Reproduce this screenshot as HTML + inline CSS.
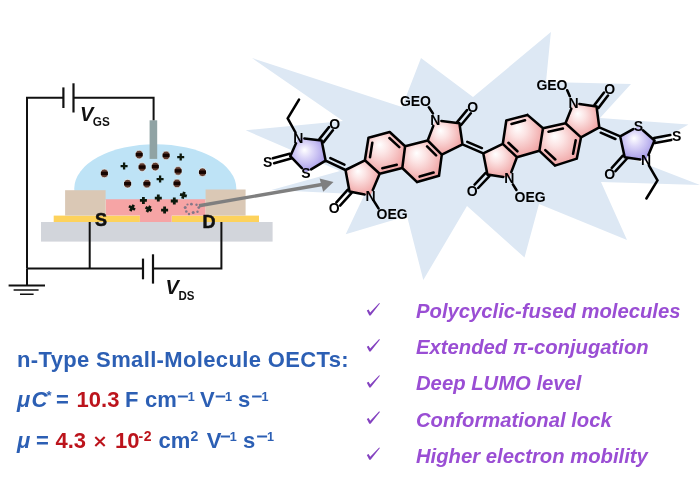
<!DOCTYPE html>
<html><head><meta charset="utf-8"><style>
html,body{margin:0;padding:0;background:#fff;width:700px;height:496px;overflow:hidden}
svg{display:block;will-change:transform}
</style></head><body>
<svg width="700" height="496" viewBox="0 0 700 496"><defs><radialGradient id="gp" cx="0.45" cy="0.42" r="0.66" fx="0.36" fy="0.3"><stop offset="0" stop-color="#ffffff"/><stop offset="0.3" stop-color="#fce4e4"/><stop offset="1" stop-color="#ee9898"/></radialGradient><radialGradient id="gv" cx="0.45" cy="0.42" r="0.62" fx="0.4" fy="0.35"><stop offset="0" stop-color="#ffffff"/><stop offset="0.35" stop-color="#dcd6f8"/><stop offset="1" stop-color="#a094e6"/></radialGradient></defs>
<polygon points="252,58 402,107 421,58 473,97 550.9,32 546,82 631,84 600,118 688.5,124.5 629.5,157.8 700,185 601,182 627,240 539,204 524.5,257.5 467,206 423.3,280 407,216 345.7,234.3 364.5,194.4 271.4,190 340,171 245.7,130.3 343,121" fill="#dde8f4"/>
<rect x="41" y="222" width="231.6" height="19.6" fill="#d2d5db"/>
<rect x="53.7" y="215.6" width="86.2" height="6.4" fill="#fdd25c"/>
<rect x="171.7" y="215.6" width="87.3" height="6.4" fill="#fdd25c"/>
<path d="M74.3,200 V188.3 A81,44.1 0 0 1 236.3,188.3 V200 Z" fill="#bee3f6"/>
<path d="M105.6,199.2 H205.6 V215.6 H171.7 V222 H139.9 V215.6 H105.6 Z" fill="#f6a4a5"/>
<rect x="65.1" y="190.2" width="40.5" height="25.4" fill="#dac8b5"/>
<rect x="205.6" y="189.5" width="40" height="26.1" fill="#dac8b5"/>
<rect x="149.6" y="120.3" width="7.6" height="38.6" fill="#90a3a4"/>
<path d="M27,268.5 V97.8 H63.4 M73.5,97.8 H153.6 V120.3" stroke="#111" stroke-width="2" fill="none"/>
<line x1="63.4" y1="87.4" x2="63.4" y2="108" stroke="#111" stroke-width="2.2"/>
<line x1="73.5" y1="83.3" x2="73.5" y2="112.5" stroke="#111" stroke-width="2.2"/>
<path d="M27,268.5 H143 M153,268.5 H221.4 V222 M89.7,222 V268.5" stroke="#111" stroke-width="2" fill="none"/>
<line x1="143" y1="258.6" x2="143" y2="279.3" stroke="#111" stroke-width="2.2"/>
<line x1="153" y1="254.3" x2="153" y2="283.6" stroke="#111" stroke-width="2.2"/>
<path d="M27,268.5 V285.4 M8.6,285.4 H45" stroke="#111" stroke-width="2" fill="none"/><path d="M13.6,290 H38.6 M20,294.3 H33.6" stroke="#111" stroke-width="1.6"/>
<ellipse cx="139.2" cy="154.6" rx="3.7" ry="4.3" fill="#5e3a2e" stroke="#eef6f8" stroke-width="0.7"/><rect x="135.7" y="152.9" width="7" height="3.4" fill="#160400"/>
<ellipse cx="166.1" cy="155.4" rx="3.7" ry="4.3" fill="#5e3a2e" stroke="#eef6f8" stroke-width="0.7"/><rect x="162.6" y="153.7" width="7" height="3.4" fill="#160400"/>
<ellipse cx="142.1" cy="167.1" rx="3.7" ry="4.3" fill="#5e3a2e" stroke="#eef6f8" stroke-width="0.7"/><rect x="138.6" y="165.4" width="7" height="3.4" fill="#160400"/>
<ellipse cx="155.3" cy="166.6" rx="3.7" ry="4.3" fill="#5e3a2e" stroke="#eef6f8" stroke-width="0.7"/><rect x="151.8" y="164.9" width="7" height="3.4" fill="#160400"/>
<ellipse cx="178.1" cy="170.9" rx="3.7" ry="4.3" fill="#5e3a2e" stroke="#eef6f8" stroke-width="0.7"/><rect x="174.6" y="169.2" width="7" height="3.4" fill="#160400"/>
<ellipse cx="104.4" cy="173.4" rx="3.7" ry="4.3" fill="#5e3a2e" stroke="#eef6f8" stroke-width="0.7"/><rect x="100.9" y="171.7" width="7" height="3.4" fill="#160400"/>
<ellipse cx="202.5" cy="172.2" rx="3.7" ry="4.3" fill="#5e3a2e" stroke="#eef6f8" stroke-width="0.7"/><rect x="199" y="170.5" width="7" height="3.4" fill="#160400"/>
<ellipse cx="127.6" cy="183.7" rx="3.7" ry="4.3" fill="#5e3a2e" stroke="#eef6f8" stroke-width="0.7"/><rect x="124.1" y="182" width="7" height="3.4" fill="#160400"/>
<ellipse cx="146.9" cy="183.7" rx="3.7" ry="4.3" fill="#5e3a2e" stroke="#eef6f8" stroke-width="0.7"/><rect x="143.4" y="182" width="7" height="3.4" fill="#160400"/>
<ellipse cx="177" cy="183.4" rx="3.7" ry="4.3" fill="#5e3a2e" stroke="#eef6f8" stroke-width="0.7"/><rect x="173.5" y="181.7" width="7" height="3.4" fill="#160400"/>
<path transform="rotate(0 180.7 157.1)" d="M177.2,157.1 h7 M180.7,153.6 v7" stroke="#0c180c" stroke-width="2.3"/>
<path transform="rotate(0 124.1 166.1)" d="M120.6,166.1 h7 M124.1,162.6 v7" stroke="#0c180c" stroke-width="2.3"/>
<path transform="rotate(0 160.1 179.1)" d="M156.6,179.1 h7 M160.1,175.6 v7" stroke="#0c180c" stroke-width="2.3"/>
<path transform="rotate(15 183.4 195.3)" d="M179.9,195.3 h7 M183.4,191.8 v7" stroke="#0c180c" stroke-width="2.8"/>
<path transform="rotate(0 143.4 200.4)" d="M139.9,200.4 h7 M143.4,196.9 v7" stroke="#0c180c" stroke-width="2.8"/>
<path transform="rotate(0 158.3 198.1)" d="M154.8,198.1 h7 M158.3,194.6 v7" stroke="#0c180c" stroke-width="2.8"/>
<path transform="rotate(0 174.3 201)" d="M170.8,201 h7 M174.3,197.5 v7" stroke="#0c180c" stroke-width="2.8"/>
<path transform="rotate(30 132 207.9)" d="M128.5,207.9 h7 M132,204.4 v7" stroke="#0c180c" stroke-width="2.8"/>
<path transform="rotate(30 148.6 209)" d="M145.1,209 h7 M148.6,205.5 v7" stroke="#0c180c" stroke-width="2.8"/>
<path transform="rotate(0 164.6 210.1)" d="M161.1,210.1 h7 M164.6,206.6 v7" stroke="#0c180c" stroke-width="2.8"/>
<circle cx="185.2" cy="207.5" r="1.5" fill="#857888"/>
<circle cx="186.3" cy="211.5" r="1.3" fill="#857888"/>
<circle cx="189" cy="214" r="1.2" fill="#857888"/>
<circle cx="191.4" cy="204.2" r="1.4" fill="#857888"/>
<circle cx="193.2" cy="212.6" r="1.5" fill="#857888"/>
<circle cx="196.5" cy="204.8" r="1.2" fill="#857888"/>
<circle cx="198.8" cy="207.6" r="1.4" fill="#857888"/>
<circle cx="197.5" cy="211.8" r="1.2" fill="#857888"/>
<circle cx="187.5" cy="204.5" r="1.1" fill="#857888"/>
<text x="95" y="226.3" font-family='"Liberation Sans", sans-serif' font-weight="bold" font-size="18" fill="#111" stroke="#111" stroke-width="0.5">S</text>
<text x="202.5" y="228" font-family='"Liberation Sans", sans-serif' font-weight="bold" font-size="18" fill="#111" stroke="#111" stroke-width="0.5">D</text>
<text x="80" y="120.5" font-family='"Liberation Sans", sans-serif' font-weight="bold" font-style="italic" font-size="20" fill="#111">V</text><text x="92.8" y="125.6" textLength="17" lengthAdjust="spacingAndGlyphs" font-family='"Liberation Sans", sans-serif' font-weight="bold" font-size="12.8" fill="#111">GS</text>
<text x="165.5" y="293.6" font-family='"Liberation Sans", sans-serif' font-weight="bold" font-style="italic" font-size="20" fill="#111">V</text><text x="178.4" y="299.5" textLength="16" lengthAdjust="spacingAndGlyphs" font-family='"Liberation Sans", sans-serif' font-weight="bold" font-size="12.8" fill="#111">DS</text>
<line x1="199" y1="205.7" x2="322" y2="184.5" stroke="#7f7f7f" stroke-width="3.4"/>
<polygon points="333.5,182 319.6,178.6 323.2,191.8" fill="#7f7f7f"/>
<polygon points="345.5,170.0 364.9,160.3 379.7,173.7 370.5,195.5 349.5,191.5" fill="url(#gp)"/>
<polygon points="368.5,137.7 389.7,132.0 405.1,146.2 402.3,168.0 379.7,173.7 364.9,160.3" fill="url(#gp)"/>
<polygon points="405.1,146.2 427.7,140.5 441.8,154.6 439.0,175.8 417.1,182.1 402.3,168.0" fill="url(#gp)"/>
<polygon points="427.7,140.5 435.4,120.3 459.4,123.2 462.5,144.4 441.8,154.6" fill="url(#gp)"/>
<polygon points="483.3,153.4 502.8,143.8 516.9,157.2 509.2,177.7 487.4,174.6" fill="url(#gp)"/>
<polygon points="506.3,120.5 527.4,114.9 543.0,128.3 539.4,150.8 516.9,157.2 502.8,143.8" fill="url(#gp)"/>
<polygon points="543.0,128.3 565.5,123.3 581.0,137.4 576.8,158.6 555.0,165.6 539.4,150.8" fill="url(#gp)"/>
<polygon points="565.5,123.3 573.5,103.2 596.5,106.4 599.3,127.4 581.0,137.4" fill="url(#gp)"/>
<polygon points="298.4,137.8 321.6,140.5 325.6,160.6 306.0,172.5 290.3,156.2" fill="url(#gv)"/>
<polygon points="620.2,136.4 638.4,126.3 654.5,140.5 646.0,160.4 624.7,157.3" fill="url(#gv)"/>
<path d="M345.5,170.0 L364.9,160.3 M364.9,160.3 L379.7,173.7 M379.7,173.7 L372.8,190.0 M364.6,194.4 L349.5,191.5 M349.5,191.5 L345.5,170.0 M368.5,137.7 L389.7,132.0 M389.7,132.0 L405.1,146.2 M405.1,146.2 L402.3,168.0 M402.3,168.0 L379.7,173.7 M364.9,160.3 L368.5,137.7 M405.1,146.2 L427.7,140.5 M427.7,140.5 L441.8,154.6 M441.8,154.6 L439.0,175.8 M439.0,175.8 L417.1,182.1 M417.1,182.1 L402.3,168.0 M427.7,140.5 L433.3,125.9 M441.4,121.0 L459.4,123.2 M459.4,123.2 L462.5,144.4 M462.5,144.4 L441.8,154.6 M483.3,153.4 L502.8,143.8 M502.8,143.8 L516.9,157.2 M516.9,157.2 L511.3,172.1 M503.3,176.9 L487.4,174.6 M487.4,174.6 L483.3,153.4 M506.3,120.5 L527.4,114.9 M527.4,114.9 L543.0,128.3 M543.0,128.3 L539.4,150.8 M539.4,150.8 L516.9,157.2 M502.8,143.8 L506.3,120.5 M543.0,128.3 L565.5,123.3 M565.5,123.3 L581.0,137.4 M581.0,137.4 L576.8,158.6 M576.8,158.6 L555.0,165.6 M555.0,165.6 L539.4,150.8 M565.5,123.3 L571.3,108.8 M579.4,104.0 L596.5,106.4 M596.5,106.4 L599.3,127.4 M599.3,127.4 L581.0,137.4 M304.4,138.5 L321.6,140.5 M321.6,140.5 L325.6,160.6 M325.6,160.6 L311.1,169.4 M301.8,168.2 L290.3,156.2 M290.3,156.2 L296.0,143.3 M620.2,136.4 L633.2,129.2 M642.9,130.3 L654.5,140.5 M654.5,140.5 L648.4,154.9 M640.1,159.5 L624.7,157.3 M624.7,157.3 L620.2,136.4 M299.0,99.6 L287.7,118.3 M287.7,118.3 L295.5,132.5 M649.0,165.6 L657.5,180.3 M657.5,180.3 L646.4,198.5 M373.5,200.3 L378.5,208.4 M428.9,107.3 L432.9,113.4 M567.2,90.2 L569.8,96.3 M512.9,184.3 L516.4,190.0 M323.6,142.1 L332.9,130.3 M319.6,138.9 L329.0,127.1 M289.6,153.8 L272.8,158.3 M291.0,158.6 L274.1,163.2 M347.6,189.8 L336.4,202.3 M351.4,193.2 L340.1,205.6 M461.3,124.8 L470.8,113.3 M457.5,121.6 L467.0,110.1 M485.6,172.9 L474.6,184.6 M489.2,176.3 L478.2,188.0 M598.5,107.9 L608.0,95.5 M594.5,104.9 L604.0,92.5 M655.0,143.0 L671.3,139.9 M654.0,138.0 L670.3,135.0 M622.8,155.6 L611.8,167.9 M626.6,159.0 L615.5,171.2 M325.6,160.6 L345.5,170.0 M330.4,158.1 L344.4,164.7 M462.5,144.4 L483.3,153.4 M467.3,141.8 L481.9,148.1 M599.3,127.4 L620.2,136.4 M600.7,132.7 L615.4,139.0 M372.3,142.7 L370.0,157.2 M389.4,138.0 L399.3,147.1 M396.8,164.7 L382.3,168.3 M427.1,146.4 L436.1,155.4 M433.6,172.6 L419.6,176.6 M511.5,123.9 L525.0,120.3 M508.4,142.8 L517.4,151.3 M548.5,131.8 L562.9,128.6 M575.7,140.3 L573.1,153.8 M555.3,159.5 L545.3,150.1" stroke="#000" stroke-width="2.55" stroke-linecap="round" stroke-linejoin="round" fill="none"/>
<text x="298.4" y="142.8" text-anchor="middle" font-family='"Liberation Sans", sans-serif' font-weight="bold" font-size="14" fill="#000">N</text>
<text x="334.7" y="129.0" text-anchor="middle" font-family='"Liberation Sans", sans-serif' font-weight="bold" font-size="14" fill="#000">O</text>
<text x="267.7" y="167.3" text-anchor="middle" font-family='"Liberation Sans", sans-serif' font-weight="bold" font-size="14" fill="#000">S</text>
<text x="306.0" y="177.5" text-anchor="middle" font-family='"Liberation Sans", sans-serif' font-weight="bold" font-size="14" fill="#000">S</text>
<text x="334.2" y="213.4" text-anchor="middle" font-family='"Liberation Sans", sans-serif' font-weight="bold" font-size="14" fill="#000">O</text>
<text x="370.5" y="200.5" text-anchor="middle" font-family='"Liberation Sans", sans-serif' font-weight="bold" font-size="14" fill="#000">N</text>
<text x="435.4" y="125.3" text-anchor="middle" font-family='"Liberation Sans", sans-serif' font-weight="bold" font-size="14" fill="#000">N</text>
<text x="472.7" y="112.1" text-anchor="middle" font-family='"Liberation Sans", sans-serif' font-weight="bold" font-size="14" fill="#000">O</text>
<text x="472.3" y="195.7" text-anchor="middle" font-family='"Liberation Sans", sans-serif' font-weight="bold" font-size="14" fill="#000">O</text>
<text x="509.2" y="182.7" text-anchor="middle" font-family='"Liberation Sans", sans-serif' font-weight="bold" font-size="14" fill="#000">N</text>
<text x="573.5" y="108.2" text-anchor="middle" font-family='"Liberation Sans", sans-serif' font-weight="bold" font-size="14" fill="#000">N</text>
<text x="609.6" y="94.2" text-anchor="middle" font-family='"Liberation Sans", sans-serif' font-weight="bold" font-size="14" fill="#000">O</text>
<text x="638.4" y="131.3" text-anchor="middle" font-family='"Liberation Sans", sans-serif' font-weight="bold" font-size="14" fill="#000">S</text>
<text x="676.7" y="141.4" text-anchor="middle" font-family='"Liberation Sans", sans-serif' font-weight="bold" font-size="14" fill="#000">S</text>
<text x="646.0" y="165.4" text-anchor="middle" font-family='"Liberation Sans", sans-serif' font-weight="bold" font-size="14" fill="#000">N</text>
<text x="609.6" y="179.0" text-anchor="middle" font-family='"Liberation Sans", sans-serif' font-weight="bold" font-size="14" fill="#000">O</text>
<text x="431" y="106" text-anchor="end" font-family='"Liberation Sans", sans-serif' font-weight="bold" font-size="14" fill="#000">GEO</text>
<text x="376.5" y="219" font-family='"Liberation Sans", sans-serif' font-weight="bold" font-size="14" fill="#000">OEG</text>
<text x="567.5" y="89.6" text-anchor="end" font-family='"Liberation Sans", sans-serif' font-weight="bold" font-size="14" fill="#000">GEO</text>
<text x="514.5" y="201.6" font-family='"Liberation Sans", sans-serif' font-weight="bold" font-size="14" fill="#000">OEG</text>
<text x="17" y="367" font-family='"Liberation Sans", sans-serif' font-weight="bold" font-size="22" letter-spacing="0.36" fill="#2c5fb4">n-Type Small-Molecule OECTs:</text>
<text x="17" y="407" font-family='"Liberation Sans", sans-serif' font-weight="bold" font-style="italic" font-size="22" fill="#2c5fb4">μ</text>
<text x="31.5" y="407" font-family='"Liberation Sans", sans-serif' font-weight="bold" font-style="italic" font-size="22" fill="#2c5fb4">C</text>
<text x="46.5" y="400.3" font-family='"Liberation Sans", sans-serif' font-weight="bold" font-style="normal" font-size="13" fill="#2c5fb4">*</text>
<text x="56" y="407" font-family='"Liberation Sans", sans-serif' font-weight="bold" font-style="normal" font-size="22" fill="#2c5fb4">=</text>
<text x="76.6" y="407" font-family='"Liberation Sans", sans-serif' font-weight="bold" font-style="normal" font-size="22" fill="#bc141c">10.3</text>
<text x="125" y="407" font-family='"Liberation Sans", sans-serif' font-weight="bold" font-style="normal" font-size="22" fill="#2c5fb4">F</text>
<text x="145" y="407" font-family='"Liberation Sans", sans-serif' font-weight="bold" font-style="normal" font-size="22" fill="#2c5fb4">cm</text>
<text x="200" y="407" font-family='"Liberation Sans", sans-serif' font-weight="bold" font-style="normal" font-size="22" fill="#2c5fb4">V</text>
<text x="238" y="407" font-family='"Liberation Sans", sans-serif' font-weight="bold" font-style="normal" font-size="22" fill="#2c5fb4">s</text>
<text x="17" y="448.1" font-family='"Liberation Sans", sans-serif' font-weight="bold" font-style="italic" font-size="22" fill="#2c5fb4">μ</text>
<text x="36" y="448.1" font-family='"Liberation Sans", sans-serif' font-weight="bold" font-style="normal" font-size="22" fill="#2c5fb4">=</text>
<text x="55.5" y="448.1" font-family='"Liberation Sans", sans-serif' font-weight="bold" font-style="normal" font-size="22" fill="#bc141c">4.3</text>
<text x="115" y="448.1" font-family='"Liberation Sans", sans-serif' font-weight="bold" font-style="normal" font-size="22" fill="#bc141c">10</text>
<text x="138.6" y="441.3" font-family='"Liberation Sans", sans-serif' font-weight="bold" font-style="normal" font-size="14" fill="#bc141c">-</text>
<text x="143.8" y="441.3" font-family='"Liberation Sans", sans-serif' font-weight="bold" font-style="normal" font-size="14" fill="#bc141c">2</text>
<text x="158.6" y="448.1" font-family='"Liberation Sans", sans-serif' font-weight="bold" font-style="normal" font-size="22" fill="#2c5fb4">cm</text>
<text x="190.4" y="441.3" font-family='"Liberation Sans", sans-serif' font-weight="bold" font-style="normal" font-size="14" fill="#2c5fb4">2</text>
<text x="206.7" y="448.1" font-family='"Liberation Sans", sans-serif' font-weight="bold" font-style="normal" font-size="22" fill="#2c5fb4">V</text>
<text x="243" y="448.1" font-family='"Liberation Sans", sans-serif' font-weight="bold" font-style="normal" font-size="22" fill="#2c5fb4">s</text>
<rect x="177.9" y="395.5" width="10" height="2" fill="#2c5fb4"/>
<text x="187.7" y="401" font-family='"Liberation Sans", sans-serif' font-weight="bold" font-style="normal" font-size="12.6" fill="#2c5fb4">1</text>
<rect x="215.7" y="395.5" width="9.5" height="2" fill="#2c5fb4"/>
<text x="225" y="401" font-family='"Liberation Sans", sans-serif' font-weight="bold" font-style="normal" font-size="12.6" fill="#2c5fb4">1</text>
<rect x="252.1" y="395.5" width="9.5" height="2" fill="#2c5fb4"/>
<text x="261.4" y="401" font-family='"Liberation Sans", sans-serif' font-weight="bold" font-style="normal" font-size="12.6" fill="#2c5fb4">1</text>
<rect x="220.7" y="435.5" width="9.3" height="2" fill="#2c5fb4"/>
<text x="229.8" y="441" font-family='"Liberation Sans", sans-serif' font-weight="bold" font-style="normal" font-size="12.6" fill="#2c5fb4">1</text>
<rect x="257.1" y="435.5" width="10" height="2" fill="#2c5fb4"/>
<text x="266.9" y="441" font-family='"Liberation Sans", sans-serif' font-weight="bold" font-style="normal" font-size="12.6" fill="#2c5fb4">1</text>
<path d="M95.3,436.9 L104.7,445.9 M104.7,436.9 L95.3,445.9" stroke="#bc141c" stroke-width="2.1"/>
<path transform="translate(0,0.0)" d="M366.8,310.6 L368.6,309.6 L370.2,312.4 L379.2,303 L379.9,303.6 L370.6,315.4 L369.3,315.4 Z" fill="#8442c0"/>
<text x="416" y="318.2" font-family='"Liberation Sans", sans-serif' font-weight="bold" font-style="italic" font-size="20.25" fill="#9a4ed4">Polycyclic-fused molecules</text>
<path transform="translate(0,36.1)" d="M366.8,310.6 L368.6,309.6 L370.2,312.4 L379.2,303 L379.9,303.6 L370.6,315.4 L369.3,315.4 Z" fill="#8442c0"/>
<text x="416" y="354.3" font-family='"Liberation Sans", sans-serif' font-weight="bold" font-style="italic" font-size="20.25" fill="#9a4ed4">Extended π-conjugation</text>
<path transform="translate(0,72.2)" d="M366.8,310.6 L368.6,309.6 L370.2,312.4 L379.2,303 L379.9,303.6 L370.6,315.4 L369.3,315.4 Z" fill="#8442c0"/>
<text x="416" y="390.4" font-family='"Liberation Sans", sans-serif' font-weight="bold" font-style="italic" font-size="20.25" fill="#9a4ed4">Deep LUMO level</text>
<path transform="translate(0,108.3)" d="M366.8,310.6 L368.6,309.6 L370.2,312.4 L379.2,303 L379.9,303.6 L370.6,315.4 L369.3,315.4 Z" fill="#8442c0"/>
<text x="416" y="426.5" font-family='"Liberation Sans", sans-serif' font-weight="bold" font-style="italic" font-size="20.25" fill="#9a4ed4">Conformational lock</text>
<path transform="translate(0,144.4)" d="M366.8,310.6 L368.6,309.6 L370.2,312.4 L379.2,303 L379.9,303.6 L370.6,315.4 L369.3,315.4 Z" fill="#8442c0"/>
<text x="416" y="462.6" font-family='"Liberation Sans", sans-serif' font-weight="bold" font-style="italic" font-size="20.25" fill="#9a4ed4">Higher electron mobility</text>
</svg></body></html>
